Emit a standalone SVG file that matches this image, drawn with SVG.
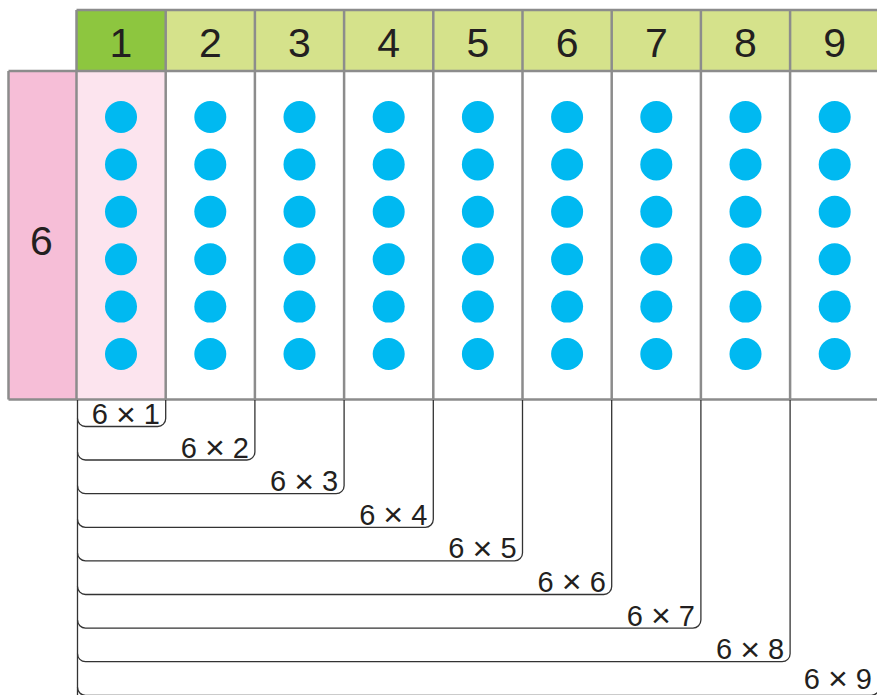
<svg xmlns="http://www.w3.org/2000/svg" width="877" height="695" viewBox="0 0 877 695">
<style>
.grid{stroke:#8c8c8c;stroke-width:2.5;fill:none}
.hd{font-family:"Liberation Sans",Arial,sans-serif;font-size:41px;fill:#231f20;text-anchor:middle}
.lb{font-family:"Liberation Sans",Arial,sans-serif;font-size:29px;fill:#231f20;text-anchor:end}
.x{font-size:34px}
.br{stroke:#333;stroke-width:1.3;fill:none}
.dot{fill:#00b9f1}
</style>
<defs>
<g id="col">
<circle class="dot" cx="0" cy="117" r="16"/>
<circle class="dot" cx="0" cy="164.4" r="16"/>
<circle class="dot" cx="0" cy="211.8" r="16"/>
<circle class="dot" cx="0" cy="259.2" r="16"/>
<circle class="dot" cx="0" cy="306.6" r="16"/>
<circle class="dot" cx="0" cy="354" r="16"/>
</g>
</defs>
<rect width="877" height="695" fill="#fff"/>
<g id="header">
<rect x="76.5" y="10" width="89.2" height="61" fill="#8dc63f"/>
<rect x="165.7" y="10" width="720" height="61" fill="#d5e28b"/>
<rect x="8.5" y="71" width="68" height="328.5" fill="#f6bed7"/>
<rect x="76.5" y="71" width="89.2" height="328.5" fill="#fce4ee"/>
</g>
<g id="dots">
<use href="#col" x="121"/>
<use href="#col" x="210.3"/>
<use href="#col" x="299.5"/>
<use href="#col" x="388.7"/>
<use href="#col" x="477.9"/>
<use href="#col" x="567.1"/>
<use href="#col" x="656.3"/>
<use href="#col" x="745.5"/>
<use href="#col" x="834.7"/>
</g>
<g id="gridlines">
<path class="grid" d="M76.5 10H880M8.5 71H880M8.5 399.5H880M8.5 71V399.5M76.5 10V399.5M165.7 10V399.5M254.9 10V399.5M344.1 10V399.5M433.3 10V399.5M522.5 10V399.5M611.7 10V399.5M700.9 10V399.5M790.1 10V399.5"/>
</g>
<g id="header-text">
<text class="hd" x="121" y="57">1</text>
<text class="hd" x="210.3" y="57">2</text>
<text class="hd" x="299.5" y="57">3</text>
<text class="hd" x="388.7" y="57">4</text>
<text class="hd" x="477.9" y="57">5</text>
<text class="hd" x="567.1" y="57">6</text>
<text class="hd" x="656.3" y="57">7</text>
<text class="hd" x="745.5" y="57">8</text>
<text class="hd" x="834.7" y="57">9</text>
<text class="hd" x="41.5" y="255">6</text>
</g>
<g id="connectors">
<path class="br" d="M77.5 400V700"/>
<path class="br" d="M165.7 400V418.5A8 8 0 0 1 157.7 426.5H85.5A8 8 0 0 1 77.5 418.5"/>
<path class="br" d="M254.9 400V452A8 8 0 0 1 246.9 460H85.5A8 8 0 0 1 77.5 452"/>
<path class="br" d="M344.1 400V485.7A8 8 0 0 1 336.1 493.7H85.5A8 8 0 0 1 77.5 485.7"/>
<path class="br" d="M433.3 400V519.3A8 8 0 0 1 425.3 527.3H85.5A8 8 0 0 1 77.5 519.3"/>
<path class="br" d="M522.5 400V552.9A8 8 0 0 1 514.5 560.9H85.5A8 8 0 0 1 77.5 552.9"/>
<path class="br" d="M611.7 400V586.5A8 8 0 0 1 603.7 594.5H85.5A8 8 0 0 1 77.5 586.5"/>
<path class="br" d="M700.9 400V620.1A8 8 0 0 1 692.9 628.1H85.5A8 8 0 0 1 77.5 620.1"/>
<path class="br" d="M790.1 400V653.7A8 8 0 0 1 782.1 661.7H85.5A8 8 0 0 1 77.5 653.7"/>
<path class="br" d="M879.3 400V687.3A8 8 0 0 1 871.3 695.3H85.5A8 8 0 0 1 77.5 687.3"/>
</g>
<g id="labels">
<text class="lb" x="160" y="424">6 <tspan class="x" dy="1.5">×</tspan><tspan dy="-1.5"> 1</tspan></text>
<text class="lb" x="249" y="457.5">6 <tspan class="x" dy="1.5">×</tspan><tspan dy="-1.5"> 2</tspan></text>
<text class="lb" x="338.2" y="491.1">6 <tspan class="x" dy="1.5">×</tspan><tspan dy="-1.5"> 3</tspan></text>
<text class="lb" x="427.4" y="524.7">6 <tspan class="x" dy="1.5">×</tspan><tspan dy="-1.5"> 4</tspan></text>
<text class="lb" x="516.6" y="558.3">6 <tspan class="x" dy="1.5">×</tspan><tspan dy="-1.5"> 5</tspan></text>
<text class="lb" x="605.8" y="591.9">6 <tspan class="x" dy="1.5">×</tspan><tspan dy="-1.5"> 6</tspan></text>
<text class="lb" x="695" y="625.5">6 <tspan class="x" dy="1.5">×</tspan><tspan dy="-1.5"> 7</tspan></text>
<text class="lb" x="784.2" y="659.1">6 <tspan class="x" dy="1.5">×</tspan><tspan dy="-1.5"> 8</tspan></text>
<text class="lb" x="872" y="689">6 <tspan class="x" dy="1">×</tspan><tspan dy="-1"> 9</tspan></text>
</g>
</svg>
